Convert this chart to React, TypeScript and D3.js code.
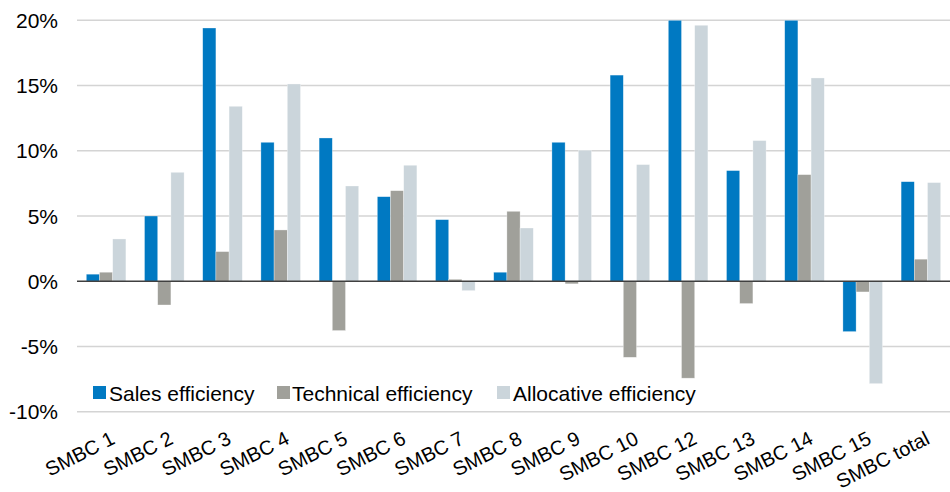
import React from "react";
import * as d3 from "d3";

const categories = [
  "SMBC 1", "SMBC 2", "SMBC 3", "SMBC 4", "SMBC 5", "SMBC 6", "SMBC 7", "SMBC 8",
  "SMBC 9", "SMBC 10", "SMBC 12", "SMBC 13", "SMBC 14", "SMBC 15", "SMBC total",
];
const salesEfficiency = [0.54, 5.0, 19.41, 10.65, 10.98, 6.48, 4.72, 0.69, 10.65, 15.8, 20.0, 8.48, 20.0, -3.86, 7.63];
const technicalEfficiency = [0.69, -1.82, 2.27, 3.93, -3.78, 6.94, 0.15, 5.36, -0.2, -5.83, -7.43, -1.71, 8.17, -0.82, 1.69];
const allocativeEfficiency = [3.24, 8.35, 13.41, 15.12, 7.3, 8.89, -0.72, 4.08, 10.04, 8.94, 19.62, 10.78, 15.58, -7.85, 7.56];
const seriesNames = ["Sales efficiency", "Technical efficiency", "Allocative efficiency"];
const seriesColors = ["#0079C2", "#A0A09A", "#CBD5DB"];
const yTicks = [-10, -5, 0, 5, 10, 15, 20];

const W = 950;
const H = 492;
const FONT = "'Liberation Sans', Arial, sans-serif";

export default function App() {
  const plotLeft = 77;
  const plotRight = 950;
  const y = d3.scaleLinear().domain([-10, 20]).range([411.7, 20.3]);
  const x0 = d3.scaleBand<string>().domain(categories).range([plotLeft, plotRight]).padding(0);
  const groupW = x0.bandwidth() * 0.68;
  const x1 = d3.scaleBand<string>().domain(seriesNames).range([0, groupW]).padding(0);
  const series = [salesEfficiency, technicalEfficiency, allocativeEfficiency];

  const legendItems = [
    { name: seriesNames[0], sx: 93, tx: 109 },
    { name: seriesNames[1], sx: 277, tx: 292 },
    { name: seriesNames[2], sx: 497, tx: 513 },
  ];

  return (
    <svg
      width={W}
      height={H}
      style={{ position: "absolute", left: 0, top: 0, background: "#fff" }}
      fontFamily={FONT}
    >
      {/* gridlines */}
      {yTicks.filter((t) => t !== 0).map((t) => (
        <line key={t} x1={plotLeft} x2={plotRight} y1={y(t)} y2={y(t)} stroke="#D4D4D4" strokeWidth={1.5} />
      ))}
      {/* y labels */}
      {yTicks.map((t) => (
        <text key={t} x={58} y={y(t)} dy="0.36em" textAnchor="end" fontSize={21} fill="#000">
          {t}%
        </text>
      ))}
      {/* bars */}
      {categories.map((c, i) => {
        const gx = (x0(c) as number) + (x0.bandwidth() - groupW) / 2;
        return (
          <g key={c} transform={`translate(${gx},0)`}>
            {series.map((s, k) => {
              const v = s[i];
              const y0 = y(0);
              const yv = y(v);
              return (
                <rect
                  key={k}
                  x={x1(seriesNames[k]) as number}
                  y={Math.min(y0, yv)}
                  width={x1.bandwidth()}
                  height={Math.abs(yv - y0)}
                  fill={seriesColors[k]}
                  stroke="#ffffff"
                  strokeOpacity={0.5}
                  strokeWidth={0.6}
                />
              );
            })}
          </g>
        );
      })}
      {/* zero line */}
      <line x1={plotLeft} x2={plotRight} y1={y(0)} y2={y(0)} stroke="#404040" strokeWidth={1.3} />
      {/* legend */}
      {legendItems.map((it, k) => (
        <g key={it.name}>
          <rect x={it.sx} y={386} width={13} height={13} fill={seriesColors[k]} />
          <text x={it.tx} y={393} dy="0.36em" fontSize={21} fill="#000">
            {it.name}
          </text>
        </g>
      ))}
      {/* x labels */}
      {categories.map((c) => {
        const cx = (x0(c) as number) + x0.bandwidth() / 2;
        return (
          <text
            key={c}
            transform={`translate(${cx + 10},${443}) rotate(-27)`}
            textAnchor="end"
            fontSize={20}
            fill="#000"
          >
            {c}
          </text>
        );
      })}
    </svg>
  );
}
